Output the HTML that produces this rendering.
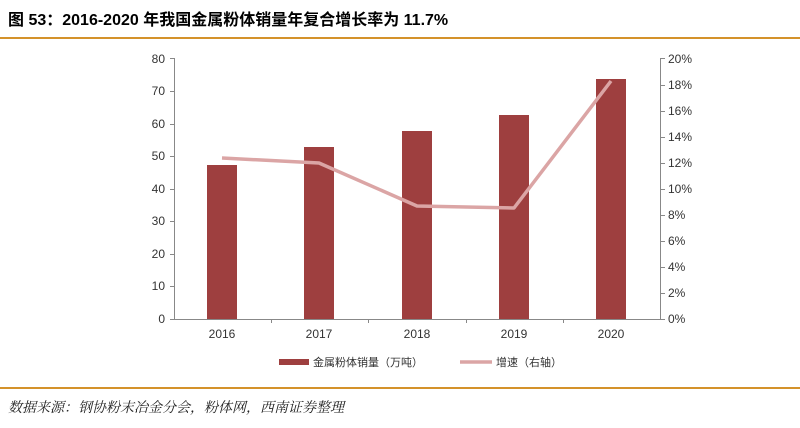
<!DOCTYPE html>
<html><head><meta charset="utf-8"><style>
body{margin:0;background:#fff;width:800px;height:423px;overflow:hidden}
</style></head><body>
<svg width="800" height="423" xmlns="http://www.w3.org/2000/svg" font-family="Liberation Sans, Noto Sans CJK SC, sans-serif">
<text x="8" y="25" font-size="16" font-weight="bold" fill="#000">图 53：2016-2020 年我国金属粉体销量年复合增长率为 11.7%</text>
<line x1="0" y1="38" x2="800" y2="38" stroke="#d4922a" stroke-width="2"/>
<g font-size="12" fill="#333" text-anchor="end">
<text x="165" y="323">0</text><text x="165" y="290">10</text><text x="165" y="258">20</text><text x="165" y="225">30</text><text x="165" y="193">40</text><text x="165" y="160">50</text><text x="165" y="128">60</text><text x="165" y="95">70</text><text x="165" y="63">80</text>
</g>
<g font-size="12" fill="#333" text-anchor="start">
<text x="668" y="323">0%</text><text x="668" y="297">2%</text><text x="668" y="271">4%</text><text x="668" y="245">6%</text><text x="668" y="219">8%</text><text x="668" y="193">10%</text><text x="668" y="167">12%</text><text x="668" y="141">14%</text><text x="668" y="115">16%</text><text x="668" y="89">18%</text><text x="668" y="63">20%</text>
</g>
<g stroke="#888" stroke-width="1">
<line x1="174.5" y1="58" x2="174.5" y2="319"/>
<line x1="660.5" y1="58" x2="660.5" y2="319"/>
<line x1="174" y1="319.5" x2="661" y2="319.5"/>
<line x1="170" y1="319.5" x2="174" y2="319.5"/><line x1="170" y1="286.5" x2="174" y2="286.5"/><line x1="170" y1="254.5" x2="174" y2="254.5"/><line x1="170" y1="221.5" x2="174" y2="221.5"/><line x1="170" y1="189.5" x2="174" y2="189.5"/><line x1="170" y1="156.5" x2="174" y2="156.5"/><line x1="170" y1="124.5" x2="174" y2="124.5"/><line x1="170" y1="91.5" x2="174" y2="91.5"/><line x1="170" y1="58.5" x2="174" y2="58.5"/>
<line x1="661" y1="319.5" x2="665" y2="319.5"/><line x1="661" y1="293.5" x2="665" y2="293.5"/><line x1="661" y1="267.5" x2="665" y2="267.5"/><line x1="661" y1="241.5" x2="665" y2="241.5"/><line x1="661" y1="215.5" x2="665" y2="215.5"/><line x1="661" y1="189.5" x2="665" y2="189.5"/><line x1="661" y1="163.5" x2="665" y2="163.5"/><line x1="661" y1="137.5" x2="665" y2="137.5"/><line x1="661" y1="111.5" x2="665" y2="111.5"/><line x1="661" y1="85.5" x2="665" y2="85.5"/><line x1="661" y1="58.5" x2="665" y2="58.5"/>
<line x1="271.5" y1="319" x2="271.5" y2="323"/><line x1="368.5" y1="319" x2="368.5" y2="323"/><line x1="466.5" y1="319" x2="466.5" y2="323"/><line x1="563.5" y1="319" x2="563.5" y2="323"/>
</g>
<g fill="#9e3f3f">
<rect x="207" y="165" width="30" height="154"/>
<rect x="304" y="147" width="30" height="172"/>
<rect x="402" y="131" width="30" height="188"/>
<rect x="499" y="115" width="30" height="204"/>
<rect x="596" y="79" width="30" height="240"/>
</g>
<polyline points="222,158 319,163 417,206 514,208 611,81" fill="none" stroke="#dba5a5" stroke-width="3.5" stroke-linejoin="round"/>
<g font-size="12" fill="#333" text-anchor="middle">
<text x="222" y="338">2016</text><text x="319" y="338">2017</text><text x="417" y="338">2018</text><text x="514" y="338">2019</text><text x="611" y="338">2020</text>
</g>
<rect x="279" y="359" width="30" height="6" fill="#9e3f3f"/>
<text x="313" y="366" font-size="11" fill="#333">金属粉体销量（万吨）</text>
<line x1="460" y1="362" x2="492" y2="362" stroke="#dba5a5" stroke-width="3.5"/>
<text x="496" y="366" font-size="11" fill="#333">增速（右轴）</text>
<line x1="0" y1="388" x2="800" y2="388" stroke="#d4922a" stroke-width="2"/>
<text x="8" y="412" font-size="14" font-style="italic" fill="#222" font-family="Liberation Serif, Noto Serif CJK SC, serif">数据来源：钢协粉末冶金分会，粉体网，西南证券整理</text>
</svg>
</body></html>
